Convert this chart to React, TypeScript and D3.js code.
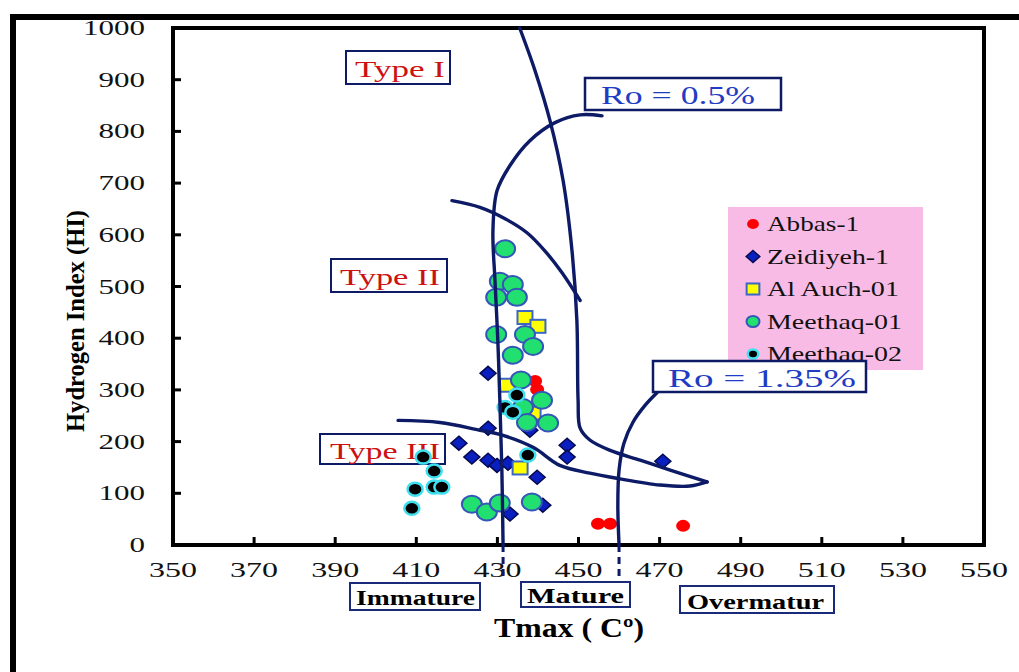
import React from 'react';
import * as d3 from 'd3';

// ---- axis ticks ----
const xTicks = [350, 370, 390, 410, 430, 450, 470, 490, 510, 530, 550];
const yTicks = [0, 100, 200, 300, 400, 500, 600, 700, 800, 900, 1000];

// ---- series (Tmax, HI) ----
const abbas1 = [
  [439.3, 317], [439.8, 301], [454.8, 41], [457.8, 41], [475.8, 37],
];
const zeidiyeh1 = [
  [427.7, 332], [427.7, 226], [420.5, 197], [423.7, 170], [427.7, 164], [429.9, 154],
  [432.6, 158], [438.0, 222], [439.8, 131], [447.2, 193], [447.2, 170], [470.8, 162],
  [433.1, 60], [441.2, 77],
];
const alAuch01 = [
  [436.8, 440], [440.0, 423], [432.4, 309], [438.8, 255], [435.6, 149],
];
const meethaq01 = [
  [431.9, 573], [430.6, 510], [433.8, 504], [429.7, 479], [434.8, 479], [429.7, 407],
  [436.8, 407], [438.8, 384], [433.8, 367], [435.8, 319], [441.0, 280], [436.3, 266],
  [437.3, 237], [442.5, 236], [423.7, 79], [427.4, 64], [430.6, 81], [438.5, 83],
];
const meethaq02 = [
  [434.8, 290], [431.9, 266], [433.8, 257], [437.5, 174],
  [411.7, 170], [414.4, 143], [409.7, 108], [414.4, 112], [416.3, 112], [408.9, 71],
];

// ---- drawn boundary curves (Tmax, HI) ----
const curveRoHalfRight = [
  [435.5, 1000], [439.3, 917], [443.0, 820], [446.2, 705], [448.4, 569], [449.6, 434],
  [449.9, 280], [450.4, 226], [452.8, 203], [457.8, 183], [465.2, 164], [472.6, 145], [481.7, 122],
];
const curveTypeIIandIII = [
  [405.5, 241], [415.8, 237], [425.7, 222], [430.6, 214], [438.8, 189], [445.4, 154],
  [452.8, 139], [459.5, 129], [470.1, 116], [477.5, 114], [481.7, 122],
];
const curveRoHalf = [
  [455.8, 830], [450.4, 832], [444.2, 817], [438.0, 782], [433.1, 734], [429.9, 685],
  [428.9, 608], [429.4, 512], [430.1, 396], [430.6, 280], [431.1, 145], [431.4, 0],
];
const curveTypeIandII = [
  [418.8, 666], [425.7, 653], [431.9, 631], [437.3, 604], [441.7, 569], [445.9, 527], [450.4, 473],
];
const curveRo135 = [
  [469.4, 295], [466.4, 270], [463.4, 237], [461.2, 197], [460.0, 145], [459.7, 77], [460.0, 0],
];
const dashedTmax = [431.4, 460.0];

const legendNames = ['Abbas-1', 'Zeidiyeh-1', 'Al Auch-01', 'Meethaq-01', 'Meethaq-02'];

const SERIF = '"Liberation Serif", "Times New Roman", serif';
const NAVY = '#0d1a66';

function Marker({ kind, cx, cy, s = 1 }: { kind: number; cx: number; cy: number; s?: number }) {
  if (kind === 0) return <ellipse cx={cx} cy={cy} rx={7 * s} ry={6 * s} fill="#ff0000" />;
  if (kind === 1) {
    const w = 8 * s, h = 7 * s;
    return (
      <path d={`M${cx},${cy - h}L${cx + w},${cy}L${cx},${cy + h}L${cx - w},${cy}Z`}
        fill="#0a1fc0" stroke="#050a50" strokeWidth={1.5} />
    );
  }
  if (kind === 2) {
    const w = 7.5 * s, h = 6.5 * s;
    return <rect x={cx - w} y={cy - h} width={2 * w} height={2 * h} fill="#ffff00" stroke="#3a66c8" strokeWidth={2} />;
  }
  if (kind === 3) return <ellipse cx={cx} cy={cy} rx={10 * s} ry={8.5 * s} fill="#22e070" stroke="#3556b8" strokeWidth={2} />;
  return <ellipse cx={cx} cy={cy} rx={7.5 * s} ry={6.5 * s} fill="#000" stroke="#3ee0f0" strokeWidth={2.5} />;
}

export default function App() {
  const x = d3.scaleLinear().domain([350, 550]).range([173, 984]);
  const y = d3.scaleLinear().domain([0, 1000]).range([545, 28]);
  const line = d3
    .line<number[]>()
    .x((d) => x(d[0]))
    .y((d) => y(d[1]))
    .curve(d3.curveCatmullRom.alpha(0.5));

  const series = [abbas1, zeidiyeh1, alAuch01, meethaq01, meethaq02];
  const curves = [curveRoHalfRight, curveTypeIIandIII, curveRoHalf, curveTypeIandII, curveRo135];

  const tickColor = '#111';

  return (
    <svg width={1019} height={672} style={{ position: 'absolute', left: 0, top: 0, background: '#fff' }}>
      {/* outer border */}
      <line x1={13} y1={17} x2={1019} y2={17} stroke="#000" strokeWidth={6} />
      <line x1={13} y1={14} x2={13} y2={672} stroke="#000" strokeWidth={6} />

      {/* plot frame */}
      <rect x={173} y={28} width={811} height={517} fill="#fff" stroke="#000" strokeWidth={4} />

      {/* ticks */}
      {yTicks.map((v) => (
        <g key={'y' + v}>
          <line x1={173} x2={181} y1={y(v)} y2={y(v)} stroke="#000" strokeWidth={3} />
          <text x={145 - 15.5 * String(v).length} y={y(v) + 7} fontFamily={SERIF} fontSize={22}
            fill={tickColor} textLength={15.5 * String(v).length} lengthAdjust="spacingAndGlyphs">{v}</text>
        </g>
      ))}
      {xTicks.map((v) => (
        <g key={'x' + v}>
          <line x1={x(v)} x2={x(v)} y1={545} y2={537} stroke="#000" strokeWidth={3} />
          <text x={x(v) - 24} y={577} fontFamily={SERIF} fontSize={22} fill={tickColor}
            textLength={48} lengthAdjust="spacingAndGlyphs">{v}</text>
        </g>
      ))}

      {/* axis titles */}
      <text transform="translate(84,321) rotate(-90)" textAnchor="middle" fontFamily={SERIF} fontWeight="bold"
        fontSize={25} fill="#000" textLength={222} lengthAdjust="spacingAndGlyphs">Hydrogen Index (HI)</text>
      <text x={494} y={637} fontFamily={SERIF} fontWeight="bold" fontSize={27} fill="#000"
        textLength={150} lengthAdjust="spacingAndGlyphs">Tmax ( Cº)</text>

      {/* maturity boxes */}
      <rect x={350} y={583} width={130} height={27} fill="#fff" stroke="#1a2a7a" strokeWidth={2} />
      <text x={356} y={605} fontFamily={SERIF} fontWeight="bold" fontSize={20} textLength={119} lengthAdjust="spacingAndGlyphs">Immature</text>
      <rect x={521} y={582} width={109} height={25} fill="#fff" stroke="#1a2a7a" strokeWidth={2} />
      <text x={527} y={603} fontFamily={SERIF} fontWeight="bold" fontSize={20} textLength={97} lengthAdjust="spacingAndGlyphs">Mature</text>
      <rect x={680} y={586} width={154} height={27} fill="#fff" stroke="#1a2a7a" strokeWidth={2} />
      <text x={687} y={609} fontFamily={SERIF} fontWeight="bold" fontSize={20} textLength={137} lengthAdjust="spacingAndGlyphs">Overmatur</text>

      {/* type labels */}
      <rect x={346} y={51} width={104} height={33} fill="#fff" stroke={NAVY} strokeWidth={2} />
      <text x={355} y={77} fontFamily={SERIF} fontSize={24} fill="#cc1111" textLength={90} lengthAdjust="spacingAndGlyphs">Type I</text>
      <rect x={331} y={259} width={116} height={33} fill="#fff" stroke={NAVY} strokeWidth={2} />
      <text x={340} y={285} fontFamily={SERIF} fontSize={24} fill="#cc1111" textLength={100} lengthAdjust="spacingAndGlyphs">Type II</text>
      <rect x={320} y={434} width={125} height={30} fill="#fff" stroke={NAVY} strokeWidth={2} />
      <text x={330} y={459} fontFamily={SERIF} fontSize={24} fill="#cc1111" textLength={110} lengthAdjust="spacingAndGlyphs">Type III</text>

      {/* data points */}
      {series.map((pts, k) => (
        <g key={'s' + k}>
          {pts.map((d, i) => (
            <Marker key={i} kind={k} cx={x(d[0])} cy={y(d[1])} />
          ))}
        </g>
      ))}

      {/* legend */}
      <rect x={728} y={207} width={195} height={163} fill="#f8bbe6" />
      {legendNames.map((name, i) => {
        const cy = 224 + i * 32.5;
        return (
          <g key={name}>
            <Marker kind={i} cx={753} cy={cy} s={i === 3 ? 0.65 : i === 4 ? 0.7 : 0.85} />
            <text x={767} y={cy + 7} fontFamily={SERIF} fontSize={21} fill="#111"
              textLength={[92, 122, 132, 135, 135][i]} lengthAdjust="spacingAndGlyphs">{name}</text>
          </g>
        );
      })}

      {/* boundary curves */}
      {curves.map((c, i) => (
        <path key={'c' + i} d={line(c) || ''} fill="none" stroke={NAVY} strokeWidth={3.4} strokeLinecap="round" />
      ))}
      {dashedTmax.map((t) => (
        <line key={'d' + t} x1={x(t)} x2={x(t)} y1={y(0)} y2={y(0) + 33} stroke={NAVY} strokeWidth={3} strokeDasharray="7,5" />
      ))}

      {/* Ro boxes */}
      <rect x={585} y={78} width={196} height={32} fill="#fff" stroke={NAVY} strokeWidth={2.5} />
      <text x={601} y={104} fontFamily={SERIF} fontSize={25} fill="#1f3cc4" textLength={154} lengthAdjust="spacingAndGlyphs">Ro = 0.5%</text>
      <rect x={653} y={361} width={213} height={31} fill="#fff" stroke={NAVY} strokeWidth={2.5} />
      <text x={668} y={387} fontFamily={SERIF} fontSize={25} fill="#1f3cc4" textLength={188} lengthAdjust="spacingAndGlyphs">Ro = 1.35%</text>
    </svg>
  );
}
